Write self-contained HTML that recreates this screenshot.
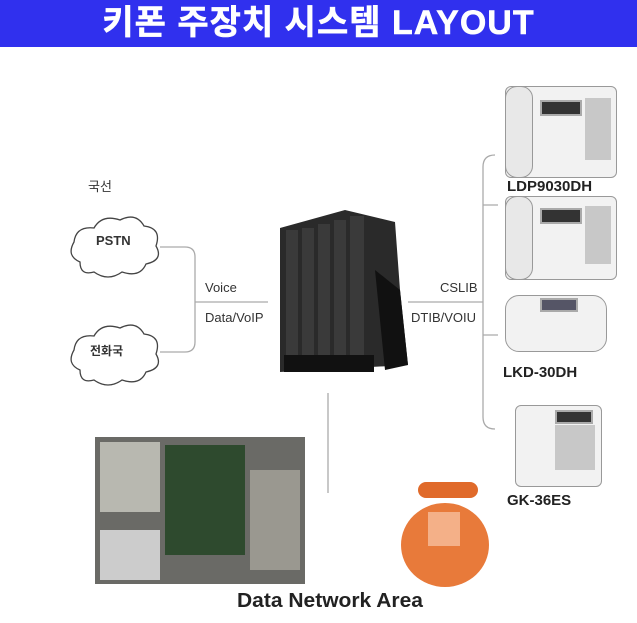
<!DOCTYPE html>
<html><head><meta charset="utf-8"><style>
body{margin:0;width:637px;height:623px;background:#fff;position:relative;overflow:hidden;font-family:"Liberation Sans","Noto Sans CJK KR",sans-serif}
.hd{position:absolute;left:0;top:0;width:637px;height:47px;background:#3030ee;color:#fff;font-weight:bold;font-size:34px;text-align:center;line-height:47px;letter-spacing:1px;-webkit-text-stroke:0.5px #fff}
.t{position:absolute;color:#333;font-size:13px}
.lb{position:absolute;font-weight:bold;font-size:15px;color:#222}
.ph{position:absolute;background:#f2f2f2;border:1px solid #999;border-radius:6px}
.sc{position:absolute;background:#333;border:2px solid #aaa}
.kp{position:absolute;background:#c8c8c8}
</style></head><body>
<div class="hd">키폰 주장치 시스템 LAYOUT</div>
<svg width="637" height="623" style="position:absolute;left:0;top:0">
<g fill="none" stroke="#444" stroke-width="1.3">
<path d="M80 262 q-14 -6 -6 -20 q2 -16 20 -14 q8 -14 26 -8 q16 -8 24 6 q18 2 12 20 q8 14 -10 18 q-6 14 -24 8 q-14 10 -28 0 q-14 4 -14 -10z"/>
<path d="M80 370 q-14 -6 -6 -20 q2 -16 20 -14 q8 -14 26 -8 q16 -8 24 6 q18 2 12 20 q8 14 -10 18 q-6 14 -24 8 q-14 10 -28 0 q-14 4 -14 -10z"/>
</g>
<g fill="none" stroke="#aaa" stroke-width="1.3">
<path d="M160 247 h25 q10 0 10 10 v85 q0 10 -10 10 h-25"/>
<path d="M195 302 h73"/>
<path d="M408 302 h75"/>
<path d="M495 155 q-12 0 -12 12 v250 q0 12 12 12"/>
<path d="M483 205 h15 M483 335 h15"/>
<path d="M328 393 v100"/>
</g>
<polygon points="280,228 345,210 395,222 400,290 408,365 280,372" fill="#2a2a2a"/>
<polygon points="375,270 400,290 408,365 385,370" fill="#111"/>
<g fill="#3a3a3a"><rect x="286" y="230" width="12" height="125"/><rect x="302" y="228" width="12" height="128"/><rect x="318" y="224" width="12" height="132"/><rect x="334" y="220" width="12" height="136"/><rect x="350" y="216" width="14" height="140"/></g>
<g fill="#111"><rect x="284" y="355" width="90" height="17"/></g>
<rect x="95" y="437" width="210" height="147" fill="#6a6a66"/>
<rect x="100" y="442" width="60" height="70" fill="#b8b8b0"/>
<rect x="165" y="445" width="80" height="110" fill="#2e4a2e"/>
<rect x="250" y="470" width="50" height="100" fill="#9a9890"/>
<rect x="100" y="530" width="60" height="50" fill="#ccc"/>
<ellipse cx="445" cy="545" rx="44" ry="42" fill="#e87a3a"/>
<rect x="418" y="482" width="60" height="16" rx="8" fill="#e06a2a"/>
<rect x="428" y="512" width="32" height="34" fill="#f4b088"/>
</svg>
<div class="ph" style="left:505px;top:86px;width:110px;height:90px"></div>
<div class="ph" style="left:505px;top:86px;width:26px;height:90px;border-radius:12px;background:#e8e8e8"></div>
<div class="sc" style="left:540px;top:100px;width:38px;height:12px"></div>
<div class="kp" style="left:585px;top:98px;width:26px;height:62px"></div>
<div class="ph" style="left:505px;top:196px;width:110px;height:82px"></div>
<div class="ph" style="left:505px;top:196px;width:26px;height:82px;border-radius:12px;background:#e8e8e8"></div>
<div class="sc" style="left:540px;top:208px;width:38px;height:12px"></div>
<div class="kp" style="left:585px;top:206px;width:26px;height:58px"></div>
<div class="ph" style="left:505px;top:295px;width:100px;height:55px;border-radius:14px"></div>
<div class="sc" style="left:540px;top:298px;width:34px;height:10px;background:#556"></div>
<div class="ph" style="left:515px;top:405px;width:85px;height:80px"></div>
<div class="sc" style="left:555px;top:410px;width:34px;height:10px"></div>
<div class="kp" style="left:555px;top:425px;width:40px;height:45px"></div>
<div class="t" style="left:88px;top:176px">국선</div>
<div class="t" style="left:96px;top:233px;font-weight:bold">PSTN</div>
<div class="t" style="left:90px;top:342px;font-weight:bold;font-size:12px">전화국</div>
<div class="t" style="left:205px;top:280px">Voice</div>
<div class="t" style="left:205px;top:310px">Data/VoIP</div>
<div class="t" style="left:440px;top:280px">CSLIB</div>
<div class="t" style="left:411px;top:310px">DTIB/VOIU</div>
<div class="lb" style="left:507px;top:178px">LDP9030DH</div>
<div class="lb" style="left:503px;top:364px">LKD-30DH</div>
<div class="lb" style="left:507px;top:492px">GK-36ES</div>
<div class="lb" style="left:237px;top:590px;font-size:20px;transform:scaleX(1.05);transform-origin:left">Data Network Area</div>
</body></html>
